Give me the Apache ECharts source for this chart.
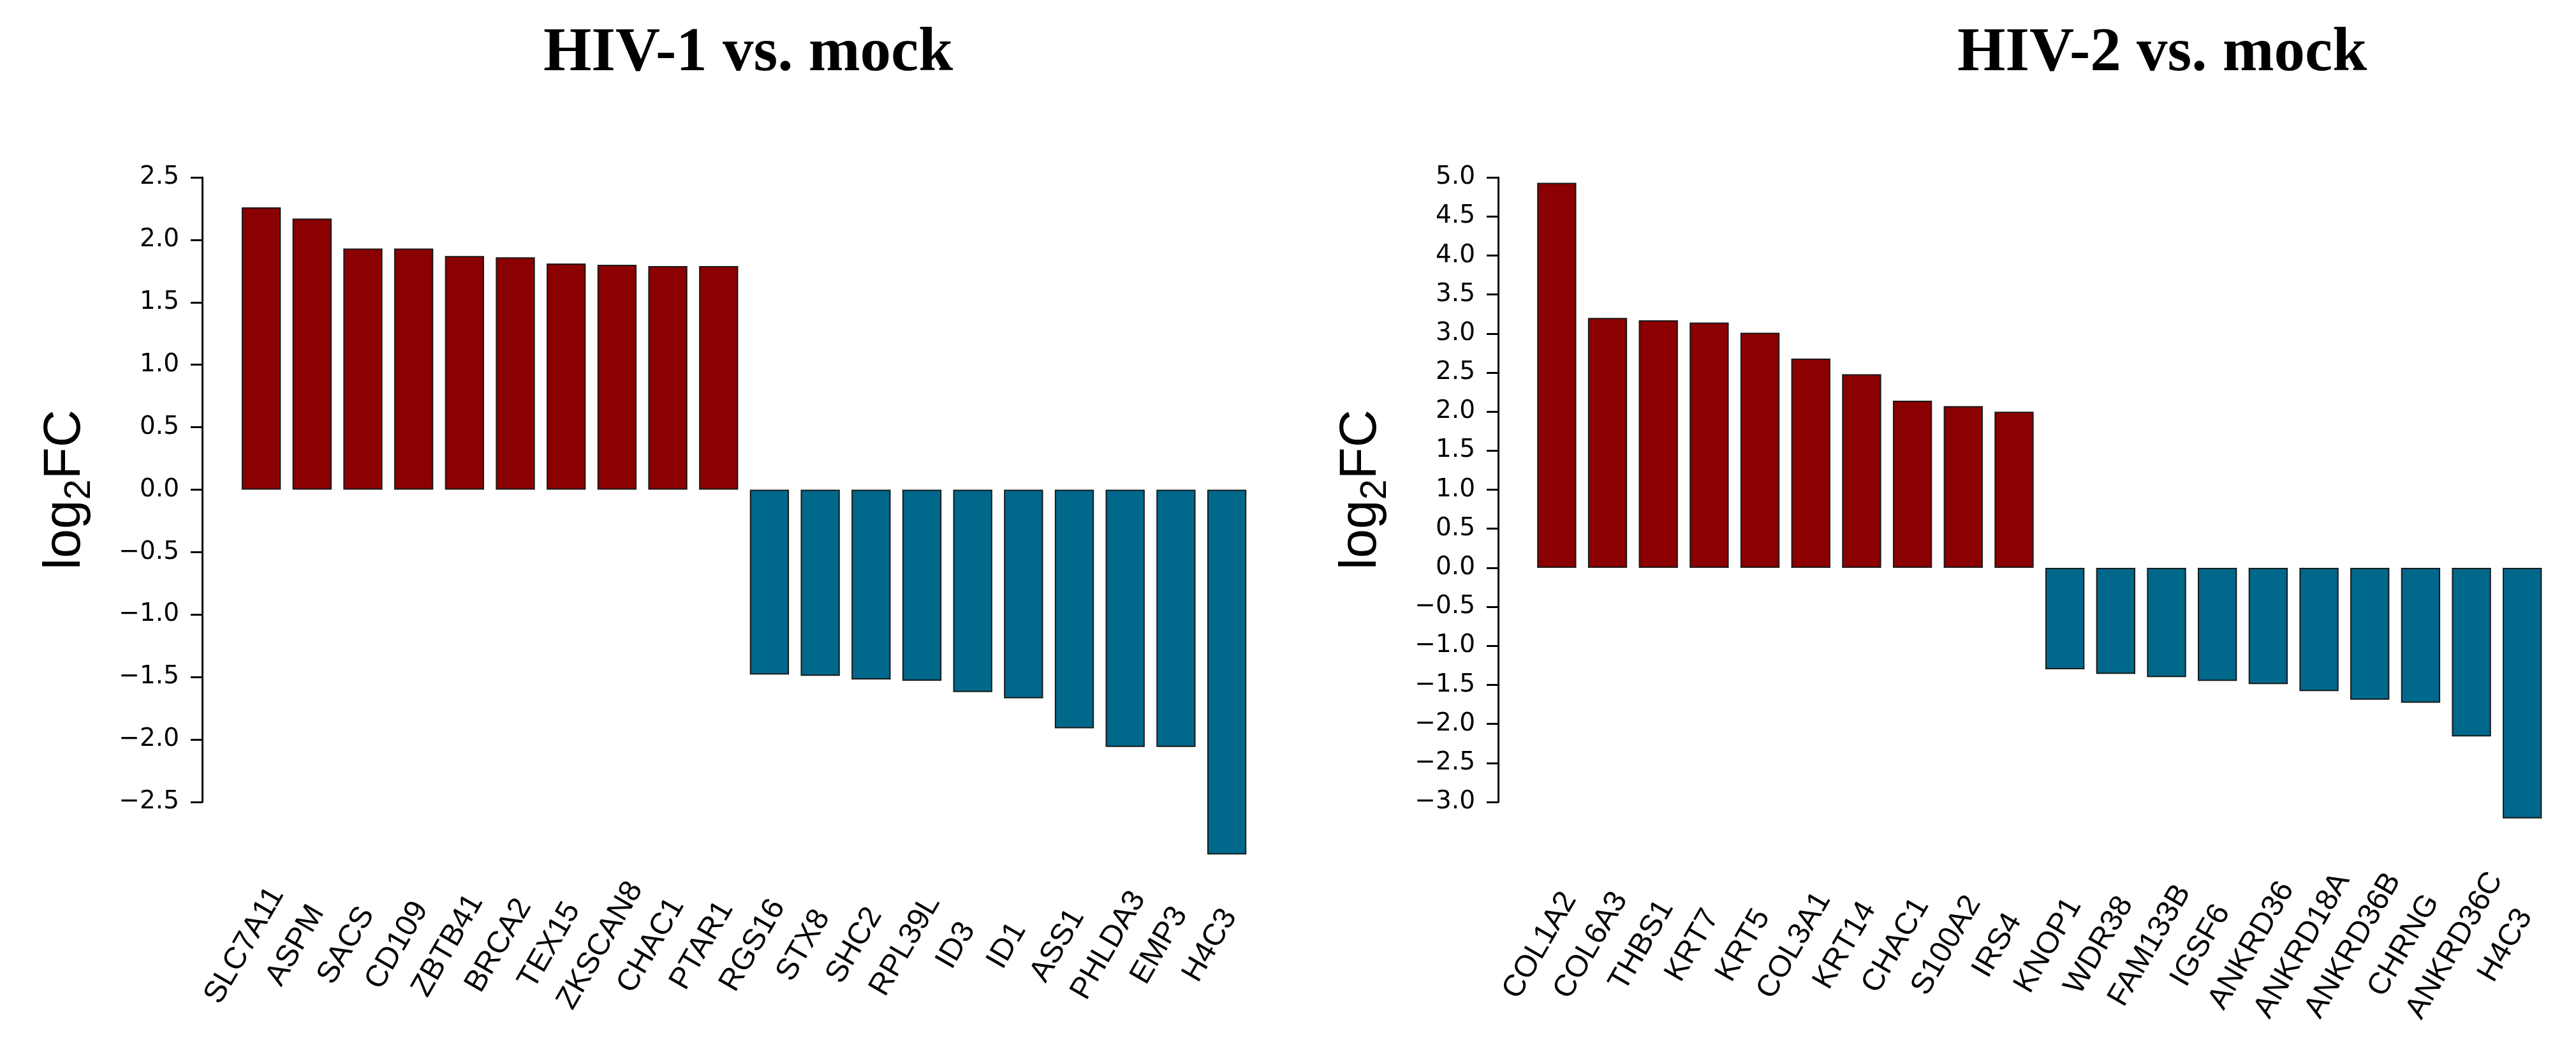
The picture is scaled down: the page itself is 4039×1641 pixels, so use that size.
<!DOCTYPE html>
<html>
<head>
<meta charset="utf-8">
<script src="https://cdn.jsdelivr.net/npm/echarts@6/dist/echarts.min.js"></script>
<style>
  html, body { margin: 0; padding: 0; background: #ffffff; }
  #chart { width: 4039px; height: 1641px; }
</style>
</head>
<body>
<div id="chart"></div>
<script>
// ---- data ----
const titles = ['HIV-1 vs. mock', 'HIV-2 vs. mock'];

const genes1 = ['SLC7A11','ASPM','SACS','CD109','ZBTB41','BRCA2','TEX15','ZKSCAN8','CHAC1','PTAR1',
                'RGS16','STX8','SHC2','RPL39L','ID3','ID1','ASS1','PHLDA3','EMP3','H4C3'];
const logFC1 = [2.26, 2.17, 1.93, 1.93, 1.87, 1.86, 1.81, 1.80, 1.79, 1.79,
                -1.48, -1.49, -1.52, -1.53, -1.62, -1.67, -1.91, -2.06, -2.06, -2.92];

const genes2 = ['COL1A2','COL6A3','THBS1','KRT7','KRT5','COL3A1','KRT14','CHAC1','S100A2','IRS4',
                'KNOP1','WDR38','FAM133B','IGSF6','ANKRD36','ANKRD18A','ANKRD36B','CHRNG','ANKRD36C','H4C3'];
const logFC2 = [4.93, 3.20, 3.17, 3.14, 3.01, 2.68, 2.48, 2.14, 2.07, 2.00,
                -1.30, -1.36, -1.40, -1.45, -1.49, -1.58, -1.69, -1.73, -2.16, -3.21];

// y-axis tick ranges (visible axes)
const yTicks1 = { min: -2.5, max: 2.5, interval: 0.5 };
const yTicks2 = { min: -3.0, max: 5.0, interval: 0.5 };

// ---- styling ----
const RED = '#8B0000';
const BLUE = '#00688B';
const yLabelFont = 'DejaVu Sans';
const catFont = 'Liberation Sans';

const chart = echarts.init(document.getElementById('chart'), null, { renderer: 'canvas' });

function fmt(v) {
  const s = Math.abs(v).toFixed(1);
  return v < 0 ? '\u2212' + s : s;
}

function panelGrids(axisX, barLeft, barHeight, labelShift) {
  const W = 1593.6;
  return [
    { left: barLeft, top: 278, width: W, height: barHeight, outerBoundsMode: 'none', containLabel: false },
    { left: axisX, top: 278, width: 1, height: 979, outerBoundsMode: 'none', containLabel: false },
    { left: barLeft + labelShift, top: 278, width: W, height: 1204, outerBoundsMode: 'none', containLabel: false }
  ];
}

const grids = [].concat(
  panelGrids(317, 369.8, 1076.9, -26),
  panelGrids(2349, 2401, 1040.2, -26)
);

function xAxesFor(gi, genes) {
  return [
    { gridIndex: gi, type: 'category', data: genes, show: false, axisLine: { onZero: false } },
    { gridIndex: gi + 1, type: 'value', min: 0, max: 1, show: false, axisLine: { onZero: false } },
    {
      gridIndex: gi + 2, type: 'category', data: genes, position: 'bottom',
      axisLine: { show: false, onZero: false }, axisTick: { show: false },
      splitLine: { show: false },
      axisLabel: {
        show: true, interval: 0, rotate: 60, margin: 0,
        align: 'center', verticalAlign: 'middle',
        fontFamily: catFont, fontSize: 48, color: '#000', hideOverlap: false
      }
    }
  ];
}

function yAxesFor(gi, barMin, barMax, ticks) {
  return [
    { gridIndex: gi, type: 'value', min: barMin, max: barMax, show: false },
    {
      gridIndex: gi + 1, type: 'value', min: ticks.min, max: ticks.max, interval: ticks.interval,
      position: 'left',
      axisLine: { show: true, onZero: false, lineStyle: { color: '#000', width: 3 } },
      axisTick: { show: true, length: 18, lineStyle: { color: '#000', width: 3 } },
      splitLine: { show: false },
      axisLabel: {
        margin: 36, fontFamily: yLabelFont, fontSize: 39, color: '#000',
        formatter: fmt, showMinLabel: true, showMaxLabel: true, hideOverlap: false
      },
      name: '{a|log}{b|2}{a|FC}',
      nameLocation: 'middle',
      nameGap: 174,
      nameTextStyle: {
        color: '#000', fontFamily: 'Liberation Sans',
        rich: {
          a: { fontSize: 82, lineHeight: 82, fontFamily: 'Liberation Sans', color: '#000', verticalAlign: 'middle' },
          b: { fontSize: 58, lineHeight: 58, fontFamily: 'Liberation Sans', color: '#000', verticalAlign: 'middle', padding: [46, 0, 0, 0] }
        }
      }
    },
    { gridIndex: gi + 2, type: 'value', min: 0, max: 1, show: false }
  ];
}

function barSeries(xi, yi, values) {
  return {
    type: 'bar',
    xAxisIndex: xi, yAxisIndex: yi,
    data: values,
    barCategoryGap: '23%',
    itemStyle: {
      color: (p) => (p.value >= 0 ? RED : BLUE),
      borderColor: '#1a1a1a',
      borderWidth: 2
    },
    emphasis: { disabled: true },
    silent: true
  };
}

const titleStyle = { fontFamily: 'Liberation Serif', fontWeight: 'bold', fontSize: 97, color: '#000' };

const option = {
  backgroundColor: '#ffffff',
  animation: false,
  title: [
    { text: titles[0], left: 1168, top: 31, textAlign: 'center', textStyle: titleStyle },
    { text: titles[1], left: 3385, top: 31, textAlign: 'center', textStyle: titleStyle }
  ],
  grid: grids,
  xAxis: [].concat(xAxesFor(0, genes1), xAxesFor(3, genes2)),
  yAxis: [].concat(yAxesFor(0, -3.0, 2.5, yTicks1), yAxesFor(3, -3.5, 5.0, yTicks2)),
  series: [
    barSeries(0, 0, logFC1),
    barSeries(3, 3, logFC2)
  ]
};

chart.setOption(option);
</script>
</body>
</html>
